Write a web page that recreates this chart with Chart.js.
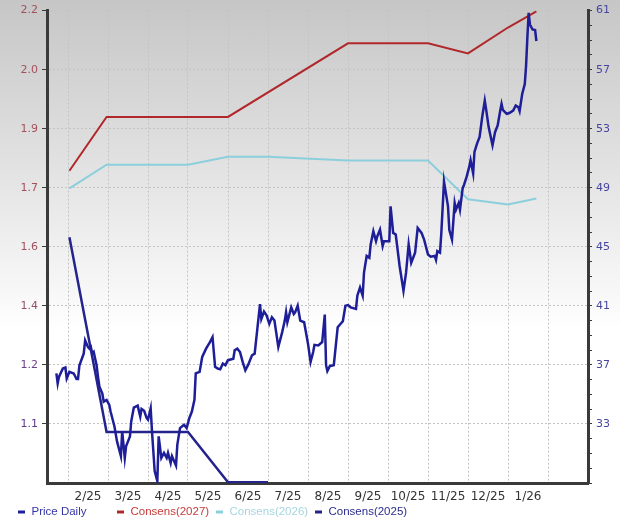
<!DOCTYPE html>
<html lang="en">
  <head>
    <meta charset="UTF-8" />
    <title>Price Daily vs Consensus</title>
    <script src="https://cdn.jsdelivr.net/npm/chart.js@4.4.1/dist/chart.umd.min.js"></script>
    <style>
      body { margin: 0; }
      #wrap {
        width: 620px; height: 518px; position: relative;
        background: linear-gradient(to bottom, #c6c6c6 0px, #f7f7f7 290px, #ffffff 330px);
      }
    </style>
  </head>
  <body>
    <div id="wrap"><canvas id="myChart"></canvas></div>

    <script>
      // month labels on the x axis (one per month, centred)
      const xLabels = ['2/25', '3/25', '4/25', '5/25', '6/25', '7/25', '8/25', '9/25', '10/25', '11/25', '12/25', '1/26'];

      // left axis (consensus EPS) and right axis (price) tick labels
      const leftTickLabels = ['2.2', '2.0', '1.9', '1.7', '1.6', '1.4', '1.2', '1.1'];
      const rightTickLabels = ['61', '57', '53', '49', '45', '41', '37', '33'];

      // daily price
      const priceDates = [
        '2025-01-23', '2025-01-24', '2025-01-25', '2025-01-28', '2025-01-30', '2025-01-31',
        '2025-02-02', '2025-02-05', '2025-02-07', '2025-02-08', '2025-02-09', '2025-02-12', '2025-02-13',
        '2025-02-15', '2025-02-16', '2025-02-17', '2025-02-18', '2025-02-19', '2025-02-21', '2025-02-22',
        '2025-02-23', '2025-02-25', '2025-02-26', '2025-02-28',
        '2025-03-02', '2025-03-03', '2025-03-06', '2025-03-08', '2025-03-11', '2025-03-12', '2025-03-14',
        '2025-03-15', '2025-03-18', '2025-03-19', '2025-03-21', '2025-03-24', '2025-03-26', '2025-03-27',
        '2025-03-29', '2025-03-31',
        '2025-04-01', '2025-04-03', '2025-04-04', '2025-04-06', '2025-04-08', '2025-04-09', '2025-04-11',
        '2025-04-13', '2025-04-15', '2025-04-16', '2025-04-18', '2025-04-19', '2025-04-22', '2025-04-23',
        '2025-04-25', '2025-04-28', '2025-04-30',
        '2025-05-02', '2025-05-04', '2025-05-06', '2025-05-07', '2025-05-10', '2025-05-12', '2025-05-15',
        '2025-05-18', '2025-05-20', '2025-05-22', '2025-05-24', '2025-05-26', '2025-05-28', '2025-05-30',
        '2025-06-01', '2025-06-05', '2025-06-06', '2025-06-08', '2025-06-10', '2025-06-12', '2025-06-14',
        '2025-06-16', '2025-06-19', '2025-06-21', '2025-06-23', '2025-06-25', '2025-06-26', '2025-06-28',
        '2025-06-30',
        '2025-07-02', '2025-07-04', '2025-07-06', '2025-07-09', '2025-07-12', '2025-07-14', '2025-07-15',
        '2025-07-16', '2025-07-19', '2025-07-21', '2025-07-22', '2025-07-24', '2025-07-26', '2025-07-29',
        '2025-08-01', '2025-08-03', '2025-08-05', '2025-08-06', '2025-08-09', '2025-08-12', '2025-08-14',
        '2025-08-15', '2025-08-16', '2025-08-18', '2025-08-21', '2025-08-24', '2025-08-28', '2025-08-30',
        '2025-09-01', '2025-09-03', '2025-09-07', '2025-09-08', '2025-09-10', '2025-09-12', '2025-09-13',
        '2025-09-15', '2025-09-17', '2025-09-18', '2025-09-20', '2025-09-22', '2025-09-23', '2025-09-25',
        '2025-09-27', '2025-09-28',
        '2025-10-02', '2025-10-03', '2025-10-05', '2025-10-07', '2025-10-10', '2025-10-13', '2025-10-15',
        '2025-10-17', '2025-10-19', '2025-10-22', '2025-10-24', '2025-10-27', '2025-10-29',
        '2025-11-01', '2025-11-03', '2025-11-06', '2025-11-07', '2025-11-08', '2025-11-10', '2025-11-11',
        '2025-11-13', '2025-11-16', '2025-11-17', '2025-11-19', '2025-11-21', '2025-11-22', '2025-11-24',
        '2025-11-25', '2025-11-27', '2025-11-28', '2025-11-30',
        '2025-12-02', '2025-12-03', '2025-12-05', '2025-12-06', '2025-12-08', '2025-12-10', '2025-12-12',
        '2025-12-14', '2025-12-15', '2025-12-17', '2025-12-20', '2025-12-22', '2025-12-24', '2025-12-26',
        '2025-12-27', '2025-12-28', '2025-12-31',
        '2026-01-02', '2026-01-05', '2026-01-07', '2026-01-09', '2026-01-10', '2026-01-12', '2026-01-14',
        '2026-01-15', '2026-01-16', '2026-01-17', '2026-01-18', '2026-01-20', '2026-01-22', '2026-01-23'
      ];
      const priceDaily = [
        36.42, 35.74, 36.19, 36.75, 36.82, 36.08,
        36.53, 36.42, 36.04, 36.04, 36.98, 37.76, 38.66,
        38.21, 38.10, 38.21, 37.76, 37.87, 36.98, 36.19,
        35.52, 35.07, 34.51, 34.63,
        34.29, 33.84, 32.83, 31.82, 30.82, 32.50, 30.70,
        31.49, 32.16, 33.17, 34.11, 34.24, 33.50, 34.02,
        33.89, 33.39,
        33.28, 34.06, 32.50, 29.81, 29.13, 32.16, 30.70,
        31.04, 30.70, 31.04, 30.36, 30.82, 30.19, 31.60,
        32.72, 32.95, 32.72,
        33.39, 33.84, 34.63, 36.42, 36.53, 37.54, 38.10,
        38.55, 38.88, 36.87, 36.75, 36.71, 37.09, 36.98,
        37.32, 37.42, 37.99, 38.10, 37.87, 37.20, 36.64,
        36.98, 37.65, 37.76, 39.44, 41.12, 40.11, 40.61,
        40.34,
        39.78, 40.23, 40.00, 38.21, 39.22, 40.00, 40.56,
        39.89, 40.90, 40.45, 40.56, 41.01, 40.00, 39.89,
        38.43, 37.20, 37.87, 38.36, 38.32, 38.55, 40.41,
        36.98, 36.58, 36.93, 36.98, 39.55, 39.96, 41.01,
        41.05, 40.90, 40.79, 41.69, 42.24, 41.69, 43.25,
        44.38, 44.26, 45.16, 46.06, 45.38, 45.72, 46.16,
        45.05, 45.38,
        45.38, 47.74, 45.94, 45.83, 43.70, 42.02, 43.25,
        45.16, 43.92, 44.60, 46.28, 45.94, 45.49,
        44.48, 44.33, 44.38, 44.11, 44.71, 44.60, 45.94,
        49.42, 47.74, 46.14, 45.49, 47.96, 47.51, 47.96,
        47.51, 48.97, 49.19, 49.75,
        50.43, 50.87, 49.97, 51.43, 51.99, 52.44, 53.79,
        54.90, 54.34, 53.11, 51.88, 52.78, 53.22, 54.23,
        54.68, 54.28, 54.01,
        54.06, 54.23, 54.57, 54.46, 54.19, 55.35, 56.03,
        57.26, 59.16, 60.85, 60.06, 59.72, 59.68, 58.94
      ];

      // consensus estimates (left axis), null where there is no point
      const consDates = ['2025-02-02', '2025-02-28', '2025-05-01', '2025-06-01', '2025-07-01',
                         '2025-09-01', '2025-11-01', '2025-12-01', '2026-01-01', '2026-01-23'];
      const cons2027 = [1.774, 1.917, null, 1.917, null, 2.113, 2.113, 2.086, 2.155, 2.198];
      const cons2026 = [1.727, 1.790, 1.790, 1.811, 1.811, 1.801, 1.801, 1.698, 1.684, 1.700];
      const cons2025 = [1.597, 1.079, 1.079, 0.945, 0.945, null, null, null, null, null];

      const leftMin = 0.943, leftMax = 2.2;
      const leftTickColors = ['#a4505c', '#a4505c', '#a4505c', '#a4505c', '#a0505e', '#965068', '#6e3f88', '#5e3a8e'];
      const legendTextColors = ['#3434a6', '#c43c3c', '#a6d6e0', '#2c2c8e'];

      // date string -> months since Jan 2025 (Feb 1 2025 = 1)
      function monthPos(s) {
        const [y, m, d] = s.split('-').map(Number);
        const dim = new Date(y, m, 0).getDate();
        return (y - 2025) * 12 + (m - 1) + (d - 1) / dim;
      }

      function toPoints(dates, values) {
        return dates.map((d, i) => ({ x: monthPos(d), y: values[i] }));
      }

      const bottomLegend = {
        id: 'bottomLegend',
        afterDraw(chart) {
          const ctx = chart.ctx;
          const xs = [18, 117, 216, 315];
          const y = 512;
          ctx.save();
          ctx.font = '11.5px "Liberation Sans", Arial, sans-serif';
          ctx.textBaseline = 'middle';
          chart.data.datasets.forEach((ds, i) => {
            ctx.fillStyle = ds.borderColor;
            ctx.fillRect(xs[i], y - 1.5, 7, 3);
            ctx.fillStyle = legendTextColors[i];
            ctx.fillText(ds.label, xs[i] + 13.5, y);
          });
          ctx.restore();
        }
      };

      const ctx = document.getElementById('myChart').getContext('2d');
      const myChart = new Chart(ctx, {
        type: 'line',
        data: {
          datasets: [
            {
              label: 'Price Daily',
              data: toPoints(priceDates, priceDaily),
              yAxisID: 'yR',
              borderColor: '#1e1e98',
              borderWidth: 2.5,
              pointRadius: 0,
              tension: 0
            },
            {
              label: 'Consens(2027)',
              data: toPoints(consDates, cons2027),
              yAxisID: 'yL',
              borderColor: '#b0282c',
              borderWidth: 2,
              pointRadius: 0,
              spanGaps: true
            },
            {
              label: 'Consens(2026)',
              data: toPoints(consDates, cons2026),
              yAxisID: 'yL',
              borderColor: '#8ccfdc',
              borderWidth: 2,
              pointRadius: 0,
              spanGaps: true
            },
            {
              label: 'Consens(2025)',
              data: toPoints(consDates, cons2025),
              yAxisID: 'yL',
              borderColor: '#24248c',
              borderWidth: 2.5,
              pointRadius: 0,
              spanGaps: false
            }
          ]
        },
        options: {
          responsive: true,
          maintainAspectRatio: false,
          animation: false,
          layout: { padding: { top: 0, right: 0, left: 0, bottom: 10 } },
          plugins: { legend: { display: false }, tooltip: { enabled: false } },
          scales: {
            x: {
              type: 'linear',
              min: 0.475,
              max: 14,
              afterBuildTicks: (scale) => {
                const t = [];
                for (let v = 1; v <= 13; v += 0.5) t.push({ value: v });
                scale.ticks = t;
              },
              afterFit: (scale) => { scale.height = 25; },
              grid: {
                color: (c) => (c.tick && Number.isInteger(c.tick.value)) ? '#c4c4c4' : 'rgba(0,0,0,0)',
                drawTicks: false,
                lineWidth: 1
              },
              border: { display: true, color: '#3a3a3a', width: 3, dash: [2, 2] },
              ticks: {
                autoSkip: false,
                maxRotation: 0,
                padding: 7,
                color: '#333333',
                font: { family: 'DejaVu Sans', size: 12 },
                callback: (v) => Number.isInteger(v) ? '' : xLabels[Math.floor(v) - 1]
              }
            },
            yL: {
              type: 'linear',
              position: 'left',
              min: leftMin,
              max: leftMax,
              afterBuildTicks: (scale) => {
                const step = (leftMax - leftMin) / 8;
                scale.ticks = leftTickLabels.map((_, i) => ({ value: leftMax - i * step }));
              },
              afterFit: (scale) => { scale.width = 47; },
              grid: { color: '#c4c4c4', tickColor: '#3a3a3a', tickLength: 5, lineWidth: 1 },
              border: { display: true, color: '#3a3a3a', width: 3, dash: [2, 2] },
              ticks: {
                padding: 4,
                color: (c) => leftTickColors[c.index],
                font: { family: 'DejaVu Sans', size: 11 },
                callback: (v, i) => leftTickLabels[i]
              }
            },
            yR: {
              type: 'linear',
              position: 'right',
              min: 29,
              max: 61,
              afterBuildTicks: (scale) => {
                const t = [];
                for (let v = 29; v <= 61; v++) t.push({ value: v });
                scale.ticks = t;
              },
              afterFit: (scale) => { scale.width = 32; },
              grid: { drawOnChartArea: false, tickColor: '#3a3a3a', tickLength: 4 },
              border: { display: true, color: '#3a3a3a', width: 3 },
              ticks: {
                autoSkip: false,
                padding: 4,
                color: '#4646a0',
                font: { family: 'DejaVu Sans', size: 11 },
                callback: (v) => rightTickLabels.includes(String(v)) ? String(v) : ''
              }
            }
          }
        },
        plugins: [bottomLegend]
      });
    </script>
  </body>
</html>
